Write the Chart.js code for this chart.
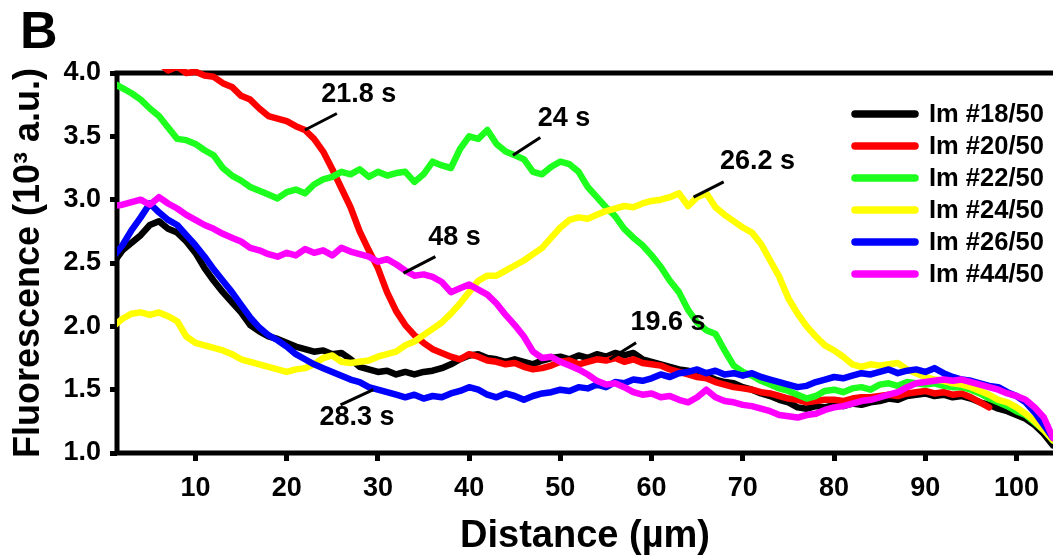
<!DOCTYPE html>
<html lang="en">
<head>
<meta charset="UTF-8" />
<title>Fluorescence profiles</title>
<script src="https://cdn.jsdelivr.net/npm/chart.js"></script>
<style>
  html, body { margin: 0; padding: 0; background: #fff; }
  .wrap { position: relative; width: 1053px; height: 556px; }
</style>
</head>
<body>
<div class="wrap"><canvas id="profileChart"></canvas></div>
<script>
  // distance along the line scan (µm)
  const distance = [1,2,3,4,5,6,7,8,9,10,11,12,13,14,15,16,17,18,19,20,
    21,22,23,24,25,26,27,28,29,30,31,32,33,34,35,36,37,38,39,40,
    41,42,43,44,45,46,47,48,49,50,51,52,53,54,55,56,57,58,59,60,
    61,62,63,64,65,66,67,68,69,70,71,72,73,74,75,76,77,78,79,80,
    81,82,83,84,85,86,87,88,89,90,91,92,93,94,95,96,97,98,99,100,
    101,102,103,104];

  // fluorescence, 10^3 a.u.
  const im18 = [2.50,2.60,2.66,2.72,2.80,2.83,2.77,2.74,2.67,2.58,
    2.46,2.36,2.27,2.19,2.11,2.01,1.96,1.92,1.90,1.87,
    1.84,1.82,1.80,1.81,1.78,1.79,1.74,1.68,1.66,1.64,
    1.65,1.62,1.64,1.62,1.64,1.65,1.67,1.70,1.74,1.77,
    1.78,1.75,1.74,1.72,1.74,1.72,1.70,1.73,1.75,1.76,
    1.74,1.77,1.75,1.78,1.76,1.79,1.77,1.79,1.74,1.72,
    1.70,1.68,1.66,1.65,1.62,1.61,1.58,1.56,1.55,1.52,
    1.50,1.47,1.45,1.42,1.40,1.36,1.35,1.37,1.36,1.38,
    1.37,1.39,1.38,1.40,1.41,1.43,1.42,1.45,1.46,1.47,
    1.45,1.46,1.44,1.45,1.43,1.40,1.38,1.35,1.33,1.30,
    1.27,1.22,1.15,1.06];

  const im20 = [4.30,4.25,4.22,4.18,4.12,4.08,4.02,4.05,4.00,4.01,
    3.98,3.97,3.92,3.89,3.82,3.79,3.72,3.66,3.64,3.62,
    3.58,3.55,3.48,3.38,3.24,3.09,2.94,2.75,2.60,2.46,
    2.27,2.12,2.01,1.93,1.87,1.82,1.79,1.76,1.74,1.78,
    1.76,1.73,1.72,1.70,1.71,1.68,1.66,1.67,1.69,1.72,
    1.73,1.70,1.72,1.74,1.73,1.75,1.72,1.74,1.71,1.70,
    1.69,1.66,1.64,1.62,1.60,1.59,1.56,1.54,1.52,1.51,
    1.50,1.48,1.47,1.45,1.43,1.42,1.40,1.41,1.42,1.42,
    1.41,1.43,1.44,1.44,1.45,1.46,1.45,1.47,1.48,1.49,
    1.47,1.48,1.46,1.47,1.44,1.40,1.36];

  const im22 = [3.92,3.88,3.84,3.79,3.72,3.66,3.57,3.48,3.47,3.44,
    3.39,3.35,3.25,3.19,3.15,3.10,3.07,3.04,3.01,3.06,
    3.08,3.05,3.12,3.16,3.18,3.22,3.20,3.24,3.18,3.22,
    3.19,3.21,3.22,3.14,3.20,3.30,3.27,3.25,3.40,3.50,
    3.48,3.55,3.44,3.38,3.35,3.32,3.22,3.20,3.26,3.30,
    3.28,3.22,3.10,3.02,2.94,2.87,2.77,2.70,2.64,2.56,
    2.47,2.36,2.27,2.13,2.03,1.97,1.94,1.81,1.69,1.64,
    1.61,1.57,1.54,1.51,1.49,1.46,1.43,1.45,1.49,1.50,
    1.48,1.51,1.52,1.50,1.54,1.55,1.53,1.56,1.55,1.54,
    1.55,1.53,1.52,1.52,1.50,1.47,1.43,1.40,1.37,1.33,
    1.30,1.24,1.18,1.10];

  const im24 = [2.00,2.06,2.10,2.11,2.09,2.11,2.08,2.04,1.92,1.87,
    1.85,1.83,1.81,1.78,1.74,1.72,1.70,1.68,1.66,1.64,
    1.66,1.67,1.70,1.75,1.77,1.72,1.71,1.72,1.73,1.76,
    1.78,1.80,1.85,1.88,1.93,1.98,2.03,2.10,2.18,2.27,
    2.36,2.40,2.40,2.44,2.48,2.52,2.57,2.62,2.70,2.78,
    2.84,2.86,2.85,2.88,2.91,2.93,2.95,2.94,2.97,2.99,
    3.00,3.02,3.05,2.95,3.02,3.05,2.94,2.88,2.83,2.78,
    2.74,2.65,2.52,2.39,2.22,2.10,2.00,1.92,1.85,1.81,
    1.76,1.70,1.68,1.70,1.69,1.70,1.71,1.66,1.63,1.60,
    1.58,1.57,1.55,1.54,1.52,1.49,1.46,1.42,1.40,1.36,
    1.31,1.25,1.18,1.10];

  const im26 = [2.55,2.64,2.76,2.86,2.97,2.90,2.84,2.80,2.72,2.64,
    2.55,2.45,2.36,2.27,2.17,2.07,1.99,1.93,1.89,1.84,
    1.78,1.74,1.70,1.67,1.64,1.61,1.58,1.56,1.52,1.50,
    1.48,1.46,1.44,1.46,1.43,1.45,1.44,1.47,1.49,1.52,
    1.50,1.46,1.44,1.47,1.45,1.42,1.45,1.47,1.48,1.50,
    1.49,1.52,1.51,1.54,1.52,1.56,1.55,1.58,1.57,1.59,
    1.62,1.60,1.63,1.64,1.66,1.63,1.65,1.62,1.63,1.61,
    1.63,1.60,1.58,1.56,1.54,1.52,1.53,1.56,1.58,1.60,
    1.59,1.61,1.63,1.62,1.64,1.66,1.63,1.65,1.66,1.64,
    1.67,1.63,1.60,1.58,1.57,1.55,1.53,1.52,1.48,1.45,
    1.40,1.32,1.22,1.12];

  const im44 = [2.95,2.96,2.98,3.00,2.96,3.02,2.97,2.93,2.88,2.84,
    2.80,2.77,2.73,2.70,2.67,2.62,2.60,2.57,2.55,2.58,
    2.56,2.61,2.58,2.60,2.56,2.62,2.59,2.57,2.55,2.51,
    2.53,2.49,2.44,2.40,2.41,2.39,2.35,2.27,2.30,2.33,
    2.29,2.25,2.18,2.09,2.01,1.92,1.80,1.75,1.76,1.72,
    1.69,1.66,1.62,1.57,1.54,1.55,1.52,1.48,1.46,1.47,
    1.44,1.45,1.42,1.40,1.44,1.50,1.44,1.41,1.40,1.38,
    1.37,1.35,1.33,1.30,1.29,1.28,1.30,1.31,1.34,1.36,
    1.37,1.39,1.41,1.42,1.44,1.46,1.48,1.52,1.55,1.56,
    1.57,1.58,1.57,1.58,1.56,1.54,1.52,1.50,1.47,1.45,
    1.42,1.36,1.28,1.12];

  const seriesLabels = ['Im #18/50', 'Im #20/50', 'Im #22/50', 'Im #24/50', 'Im #26/50', 'Im #44/50'];
  const seriesValues = [im18, im20, im22, im24, im26, im44];
  const seriesColors = ['#000000', '#ff0000', '#1dff1d', '#ffff00', '#0000ff', '#ff00ff'];

  const xTicks = [10, 20, 30, 40, 50, 60, 70, 80, 90, 100];
  const yTicks = [1.0, 1.5, 2.0, 2.5, 3.0, 3.5, 4.0];

  // time labels with their leader lines, in data units
  const notes = [
    { text: '21.8 s', at: [27.9, 3.83], from: [25.5, 3.68], to: [22.0, 3.55] },
    { text: '24 s',   at: [50.4, 3.64], from: [47.8, 3.49], to: [44.8, 3.35] },
    { text: '26.2 s', at: [71.6, 3.30], from: [67.9, 3.14], to: [64.6, 3.02] },
    { text: '48 s',   at: [38.4, 2.70], from: [36.3, 2.55], to: [32.8, 2.42] },
    { text: '19.6 s', at: [61.8, 2.03], from: [58.3, 1.87], to: [55.4, 1.74] },
    { text: '28.3 s', at: [27.7, 1.28], from: [29.5, 1.50], to: [25.9, 1.38] }
  ];

  const FONT = "'Liberation Sans', Arial, Helvetica, sans-serif";

  const datasets = seriesValues.map((vals, i) => ({
    label: seriesLabels[i],
    data: vals.map((v, j) => ({ x: distance[j], y: v })),
    borderColor: seriesColors[i],
    backgroundColor: seriesColors[i],
    borderWidth: 6.5,
    borderJoinStyle: 'round',
    borderCapStyle: 'round',
    pointRadius: 0,
    tension: 0,
    order: seriesValues.length - i,
    clip: { left: 0, top: 4, right: 0, bottom: 0 }
  }));

  const figurePlugin = {
    id: 'figure',
    beforeDatasetsDraw(chart) {
      const { ctx, chartArea: a } = chart;
      ctx.save();
      ctx.strokeStyle = '#000';
      ctx.lineWidth = 5;
      ctx.beginPath();
      ctx.moveTo(a.right + 3, a.top);
      ctx.lineTo(a.left, a.top);
      ctx.lineTo(a.left, a.bottom);
      ctx.lineTo(a.right + 3, a.bottom);
      ctx.stroke();
      ctx.restore();
    },
    afterDraw(chart) {
      const { ctx } = chart;
      const xs = chart.scales.x, ys = chart.scales.y;
      ctx.save();

      // time annotations
      ctx.strokeStyle = '#000';
      ctx.fillStyle = '#000';
      ctx.lineWidth = 3;
      ctx.font = 'bold 27px ' + FONT;
      ctx.textAlign = 'center';
      ctx.textBaseline = 'middle';
      notes.forEach(n => {
        ctx.beginPath();
        ctx.moveTo(xs.getPixelForValue(n.from[0]), ys.getPixelForValue(n.from[1]));
        ctx.lineTo(xs.getPixelForValue(n.to[0]), ys.getPixelForValue(n.to[1]));
        ctx.stroke();
        ctx.fillText(n.text, xs.getPixelForValue(n.at[0]), ys.getPixelForValue(n.at[1]));
      });

      // legend inside the plot, top right
      ctx.font = 'bold 25.5px ' + FONT;
      ctx.textAlign = 'left';
      ctx.lineCap = 'round';
      ctx.lineWidth = 7.5;
      chart.data.datasets.forEach((ds, i) => {
        const y = 114 + i * 32;
        ctx.strokeStyle = ds.borderColor;
        ctx.beginPath();
        ctx.moveTo(855, y);
        ctx.lineTo(915, y);
        ctx.stroke();
        ctx.fillStyle = '#000';
        ctx.fillText(ds.label, 929, y + 1);
      });

      // panel letter
      ctx.font = 'bold 52px ' + FONT;
      ctx.textBaseline = 'alphabetic';
      ctx.fillText('B', 20, 48);
      ctx.restore();
    }
  };

  new Chart(document.getElementById('profileChart'), {
    type: 'line',
    data: { datasets },
    options: {
      responsive: true,
      maintainAspectRatio: false,
      animation: false,
      layout: { padding: { top: 73, right: 0, left: 0, bottom: 0 } },
      plugins: {
        legend: { display: false },
        tooltip: { enabled: false }
      },
      scales: {
        x: {
          type: 'linear',
          min: 1.4,
          max: 104,
          afterBuildTicks: axis => { axis.ticks = xTicks.map(v => ({ value: v })); },
          afterFit: axis => { axis.height = 103; },
          border: { display: false },
          grid: { drawOnChartArea: false, drawTicks: true, tickLength: 8, tickWidth: 5, tickColor: '#000' },
          ticks: { color: '#000', padding: 11, font: { family: FONT, size: 27, weight: 'bold' }, maxRotation: 0 },
          title: {
            display: true,
            text: 'Distance (µm)',
            color: '#000',
            font: { family: FONT, size: 38, weight: 'bold', lineHeight: 1 },
            padding: { top: 0, bottom: 0 }
          }
        },
        y: {
          min: 1.0,
          max: 4.0,
          afterBuildTicks: axis => { axis.ticks = yTicks.map(v => ({ value: v })); },
          afterFit: axis => { axis.width = 117; },
          border: { display: false },
          grid: { drawOnChartArea: false, drawTicks: true, tickLength: 7, tickWidth: 5, tickColor: '#000' },
          ticks: {
            color: '#000',
            padding: 9,
            font: { family: FONT, size: 27, weight: 'bold' },
            callback: v => v.toFixed(1)
          },
          title: {
            display: true,
            text: 'Fluorescence (10³ a.u.)',
            color: '#000',
            font: { family: FONT, size: 36, weight: 'bold', lineHeight: 1 },
            padding: { top: 11, bottom: 0 }
          }
        }
      }
    },
    plugins: [figurePlugin]
  });
</script>
</body>
</html>
